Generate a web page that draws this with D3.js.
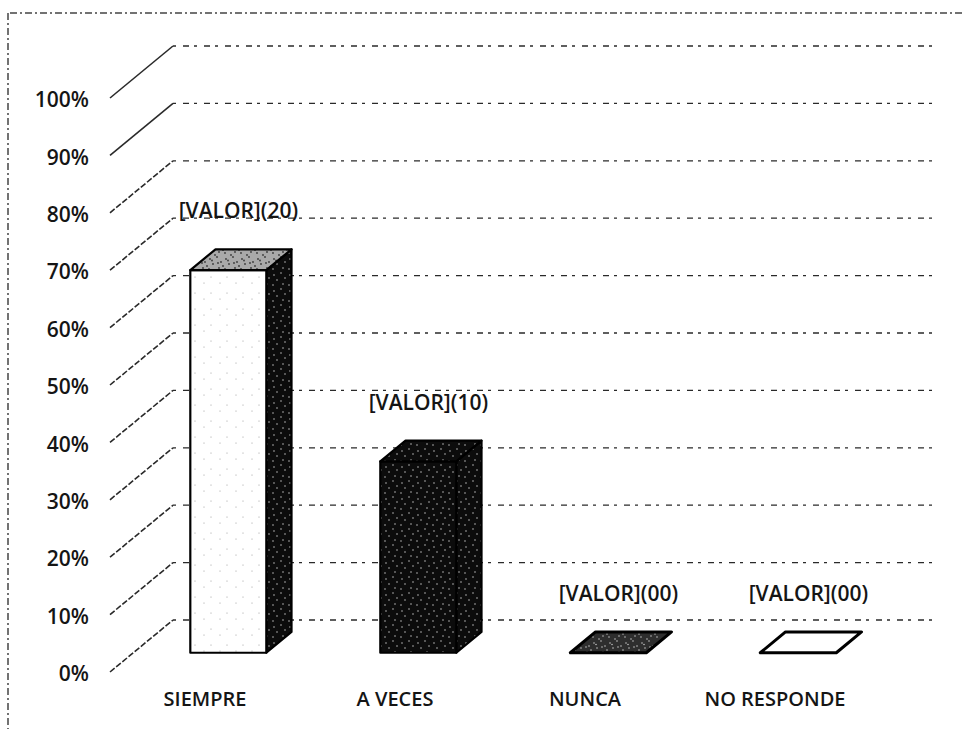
<!DOCTYPE html>
<html>
<head>
<meta charset="utf-8">
<script src="https://cdn.jsdelivr.net/npm/d3@7"></script>
<style>
  html, body { margin: 0; padding: 0; background: #fff; }
  svg text { font-family: "Open Sans", "Liberation Sans", sans-serif; fill: #151515; font-weight: 600; }
</style>
</head>
<body>
<svg id="chart" width="968" height="729"></svg>
<script>
// Survey answers: counts per response, shown as share of all respondents
const categories = ["SIEMPRE", "A VECES", "NUNCA", "NO RESPONDE"];
const counts = [20, 10, 0, 0];
const totalResponses = 30;
const yTickValues = [0, 0.1, 0.2, 0.3, 0.4, 0.5, 0.6, 0.7, 0.8, 0.9, 1.0];
const labelPrefix = "[VALOR]";

// Face shading for each category's box (front, top, right side)
const frontFill = ["url(#dotsOnWhite)", "url(#speckOnBlack)", "url(#speckOnDark)", "#ffffff"];
const topFill   = ["url(#speckOnGrey)", "url(#speckOnBlack)", "url(#speckOnDark)", "#ffffff"];
const sideFill  = ["url(#speckOnBlack)", "url(#speckOnBlack)", "url(#speckOnDark)", "#ffffff"];

const svg = d3.select("#chart");

// Oblique 3D layout: floor front edge, and the offset of the back wall
const floorY = 672, topY = 98;
const DX = 63, DY = 52;          // depth vector from front to back wall
const barZ0 = 0.37, barZ1 = 0.77; // box depth within the floor

const x = d3.scaleBand().domain(categories).range([110, 870])
  .paddingInner(0.6).paddingOuter(0.3);
const y = d3.scaleLinear().domain([0, 1]).range([floorY, topY]);

const share = counts.map(c => c / totalResponses);
const P = (px, v, z) => [px + z * DX, y(v) - z * DY];

// Speckled fills
const defs = svg.append("defs");
function speckle(id, base, dot, pts, r) {
  const p = defs.append("pattern").attr("id", id)
    .attr("width", 16).attr("height", 16).attr("patternUnits", "userSpaceOnUse");
  p.append("rect").attr("width", 16).attr("height", 16).attr("fill", base);
  pts.forEach(([cx, cy]) => p.append("circle").attr("cx", cx).attr("cy", cy).attr("r", r).attr("fill", dot));
}
const dense = [[2,3],[9,1],[13,6],[5,8],[11,12],[1,13],[7,15],[15,10],[4,4.5],[10,7]];
const sparse = [[3,5],[12,11]];
speckle("speckOnBlack", "#0c0c0c", "#d8d8d8", dense.slice(0, 6), 0.7);
speckle("speckOnDark", "#2e2e2e", "#bdbdbd", dense, 0.8);
speckle("speckOnGrey", "#a9a9a9", "#3a3a3a", dense, 0.9);
speckle("dotsOnWhite", "#ffffff", "#9a9a9a", sparse, 0.6);

// Outer frame (top and left edges)
const frame = svg.append("g").attr("stroke", "#444").attr("stroke-width", 1.5)
  .attr("stroke-dasharray", "7 3 2 3").attr("fill", "none");
frame.append("line").attr("x1", 10).attr("y1", 13).attr("x2", 962).attr("y2", 13);
frame.append("line").attr("x1", 8).attr("y1", 13).attr("x2", 8).attr("y2", 729);

// Back-wall gridlines and side-wall diagonals
const xLeft = x.range()[0], xRight = x.range()[1];
const grid = svg.append("g").attr("fill", "none").attr("stroke", "#2a2a2a");
grid.selectAll("line.back").data(yTickValues).join("line").attr("class", "back")
  .attr("x1", xLeft + DX).attr("x2", xRight + DX)
  .attr("y1", d => y(d) - DY).attr("y2", d => y(d) - DY)
  .attr("stroke-width", 1.3).attr("stroke-dasharray", "3 7 6 5");
grid.selectAll("line.side").data(yTickValues).join("line").attr("class", "side")
  .attr("x1", xLeft).attr("x2", xLeft + DX)
  .attr("y1", d => y(d)).attr("y2", d => y(d) - DY)
  .attr("stroke-width", 1.6).attr("stroke-dasharray", d => d >= 0.9 ? null : "6 2");

// Percent axis along the front-left edge
const yAxis = svg.append("g").attr("transform", "translate(89,2)")
  .call(d3.axisLeft(y).tickValues(yTickValues).tickFormat(d3.format(".0%")).tickSize(0).tickPadding(0));
yAxis.select(".domain").remove();
yAxis.selectAll("text").style("font-size", "21px").attr("fill", "#151515");

// Category axis under the floor
const xAxis = svg.append("g").attr("transform", `translate(0,${floorY + 20})`)
  .call(d3.axisBottom(x).tickSize(0).tickPadding(0));
xAxis.select(".domain").remove();
xAxis.selectAll("text").style("font-size", "20px").attr("fill", "#151515");

// Boxes
const poly = pts => "M" + pts.map(p => p.join(",")).join("L") + "Z";
const bars = svg.append("g").attr("stroke", "#000").attr("stroke-width", 2.2)
  .attr("stroke-linejoin", "round");
categories.forEach((cat, i) => {
  const x0 = x(cat), x1 = x(cat) + x.bandwidth(), v = share[i];
  const g = bars.append("g");
  if (v > 0) {
    g.append("path").attr("fill", sideFill[i])
      .attr("d", poly([P(x1, 0, barZ0), P(x1, 0, barZ1), P(x1, v, barZ1), P(x1, v, barZ0)]));
    g.append("path").attr("fill", frontFill[i])
      .attr("d", poly([P(x0, 0, barZ0), P(x1, 0, barZ0), P(x1, v, barZ0), P(x0, v, barZ0)]));
  }
  g.append("path").attr("fill", topFill[i])
    .attr("stroke-width", v > 0 ? 2.2 : 3)
    .attr("d", poly([P(x0, v, barZ0), P(x1, v, barZ0), P(x1, v, barZ1), P(x0, v, barZ1)]));
});

// Value labels above each box
svg.append("g").selectAll("text").data(categories).join("text")
  .attr("x", d => x(d) + x.bandwidth() / 2 + 0.53 * DX)
  .attr("y", (d, i) => y(share[i]) - barZ1 * DY - 39)
  .attr("text-anchor", "middle").attr("dominant-baseline", "central")
  .style("font-size", "21px")
  .text((d, i) => labelPrefix + "(" + String(counts[i]).padStart(2, "0") + ")");
</script>
</body>
</html>
